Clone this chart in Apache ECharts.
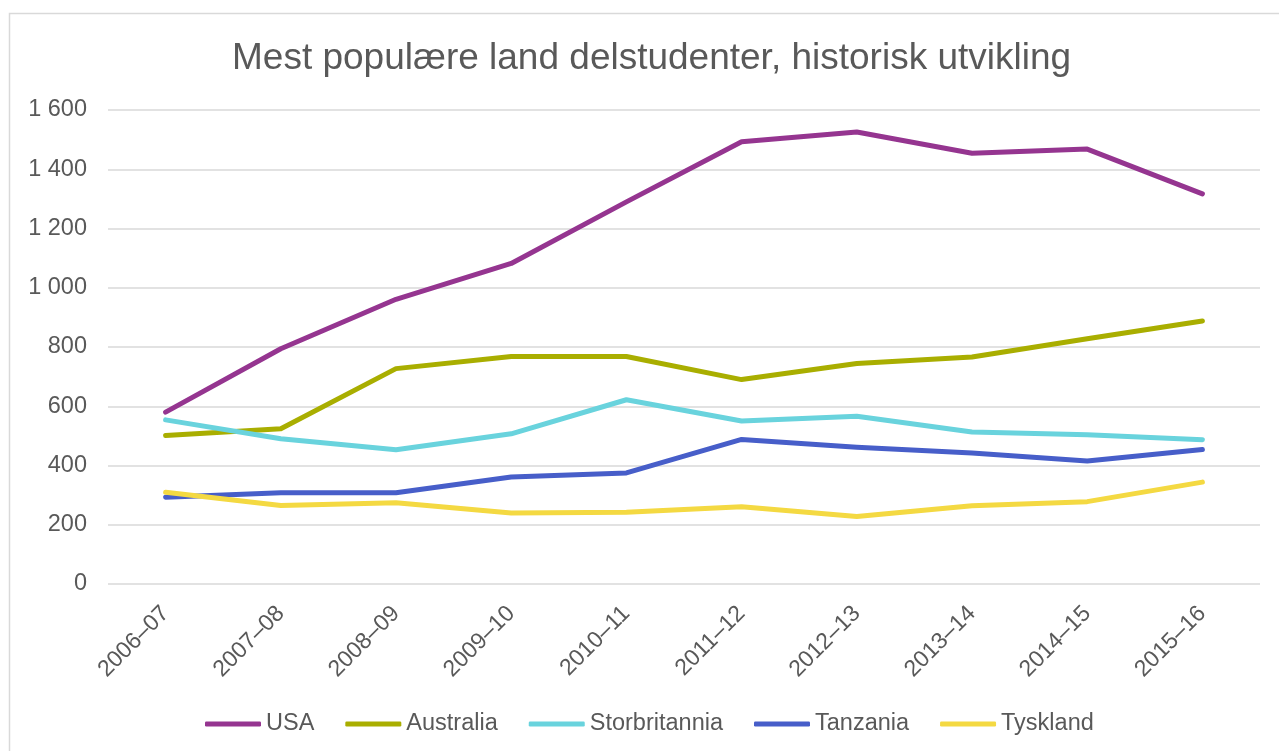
<!DOCTYPE html>
<html>
<head>
<meta charset="utf-8">
<script src="https://cdn.jsdelivr.net/npm/echarts@6/dist/echarts.min.js"></script>
<style>
  html, body { margin: 0; padding: 0; background: #fff; }
  #chart { width: 1279px; height: 751px; }
</style>
</head>
<body>
<div id="chart"></div>
<script>
// skoleår
var years = ["2006–07", "2007–08", "2008–09", "2009–10", "2010–11",
             "2011–12", "2012–13", "2013–14", "2014–15", "2015–16"];

// antall delstudenter per land
var usa        = [580, 794, 961, 1082, 1290, 1493, 1526, 1454, 1468, 1317];
var australia  = [501, 524, 727, 768, 768, 690, 744, 766, 828, 888];
var storbrit   = [554, 490, 453, 507, 622, 550, 566, 513, 504, 487];
var tanzania   = [293, 308, 308, 361, 375, 488, 462, 442, 415, 454];
var tyskland   = [310, 265, 274, 240, 242, 261, 228, 264, 278, 344];

var yTicks = { min: 0, max: 1600, step: 200 };

var fontFam = "'Liberation Sans', Arial, sans-serif";
var grey = "#595959";

function line(name, data, color) {
  return {
    name: name,
    type: "line",
    data: data,
    symbol: "none",
    lineStyle: { width: 5, color: color, cap: "round", join: "round" },
    itemStyle: { color: color }
  };
}

var myChart = echarts.init(document.getElementById("chart"));
var option = {
  animation: false,
  title: {
    text: "Mest populære land delstudenter, historisk utvikling",
    left: 227,
    top: 35,
    textStyle: { fontFamily: fontFam, fontSize: 37, fontWeight: "normal", color: grey }
  },
  // ramme rundt diagrammet
  graphic: [{
    type: "rect",
    shape: { x: 9.5, y: 13.5, width: 1300, height: 800 },
    style: { fill: "none", stroke: "#d9d9d9", lineWidth: 1.5 }
  }],
  legend: {
    bottom: 10,
    left: 200,
    icon: "roundRect",
    itemWidth: 56,
    itemHeight: 5,
    itemGap: 31,
    textStyle: { fontFamily: fontFam, fontSize: 23.5, color: grey }
  },
  grid: {
    left: 108,
    right: 19,
    top: 110,
    bottom: 167
  },
  xAxis: {
    type: "category",
    data: years,
    boundaryGap: true,
    axisLine: { show: false },
    axisTick: { show: false },
    axisLabel: {
      rotate: 45,
      margin: 26,
      fontFamily: fontFam,
      fontSize: 23,
      color: grey
    }
  },
  yAxis: {
    type: "value",
    min: yTicks.min,
    max: yTicks.max,
    interval: yTicks.step,
    axisLine: { show: false },
    axisTick: { show: false },
    splitLine: { lineStyle: { color: "#d9d9d9", width: 1.5 } },
    axisLabel: {
      margin: 21,
      fontFamily: fontFam,
      fontSize: 23.5,
      color: grey,
      formatter: function (v) {
        return String(v).replace(/\B(?=(\d{3})+(?!\d))/g, " ");
      }
    }
  },
  series: [
    line("USA", usa, "#953590"),
    line("Australia", australia, "#a9ae00"),
    line("Storbritannia", storbrit, "#69d3dd"),
    line("Tanzania", tanzania, "#475ec9"),
    line("Tyskland", tyskland, "#f4d942")
  ]
};
myChart.setOption(option);
</script>
</body>
</html>
